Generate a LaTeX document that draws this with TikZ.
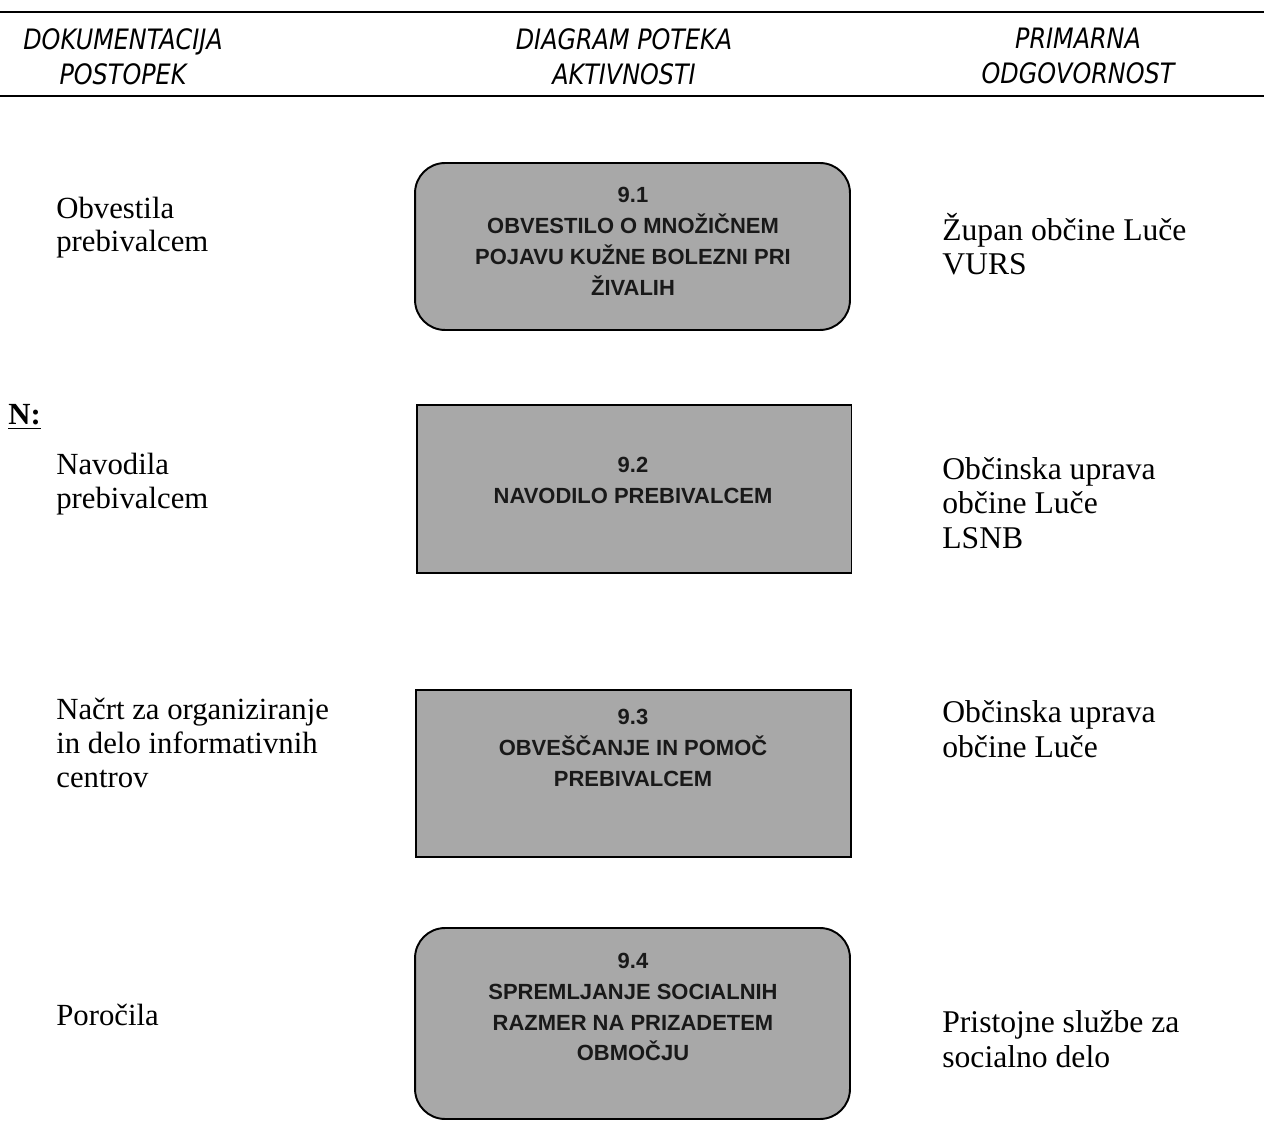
\documentclass[tikz,border=0pt]{standalone}
\usepackage{fontspec}
\setmainfont{Liberation Serif}
\newfontfamily\headfont[FakeStretch=0.85]{DejaVu Sans}
\newfontfamily\boxfont{Liberation Sans}
\usetikzlibrary{positioning}

\begin{document}
\begin{tikzpicture}[
  x=0.02cm, y=-0.02cm,
  headtext/.style={align=center, anchor=north, inner sep=0pt,
    font=\headfont\itshape\fontsize{16}{19.9}\selectfont},
  doctext/.style={align=left, anchor=base west, inner sep=0pt,
    font=\fontsize{17.5}{19.1}\selectfont},
  resptext/.style={align=left, anchor=base west, inner sep=0pt,
    font=\fontsize{18}{19.4}\selectfont},
  actbox/.style={draw, line width=1.1pt, fill=gray!68!white, minimum width=8.7cm},
  acttext/.style={align=center, inner sep=0pt, text=black!90,
    font=\boxfont\bfseries\fontsize{12.5}{17.6}\selectfont}
]
\useasboundingbox (0,0) rectangle (1264,1121);

% header
\draw[line width=1.5pt] (0,12) -- (1264,12);
\draw[line width=1.5pt] (0,96) -- (1264,96);
\node[headtext] (hdok) at (123,28) {DOKUMENTACIJA\\POSTOPEK};
\node[headtext] (hdia) at (624,28) {DIAGRAM POTEKA\\AKTIVNOSTI};
\node[headtext] (hodg) at (1078,28) {PRIMARNA\\ODGOVORNOST};

% activity boxes
\node[actbox, rounded corners=0.6cm, minimum height=3.34cm] (a91) at (632.5,246.5) {};
\node[actbox, minimum height=3.36cm] (a92) at (634,489) {};
\node[actbox, minimum height=3.34cm] (a93) at (633.5,773.5) {};
\node[actbox, rounded corners=0.6cm, minimum height=3.82cm] (a94) at (632.5,1023.5) {};

\node[acttext] (t91) at (633,241) {9.1\\OBVESTILO O MNOŽIČNEM\\POJAVU KUŽNE BOLEZNI PRI\\ŽIVALIH};
\node[acttext] (t92) at (633,480) {9.2\\NAVODILO PREBIVALCEM};
\node[acttext] (t93) at (633,748) {9.3\\OBVEŠČANJE IN POMOČ\\PREBIVALCEM};
\node[acttext] (t94) at (633,1007) {9.4\\SPREMLJANJE SOCIALNIH\\RAZMER NA PRIZADETEM\\OBMOČJU};

% documentation (anchored at last line)
\node[doctext] (d91) at (56,252) {Obvestila\\prebivalcem};
\node[doctext] (d92) at (56,508) {Navodila\\prebivalcem};
\node[doctext] (d93) at (56,787) {Načrt za organiziranje\\in delo informativnih\\centrov};
\node[doctext] (d94) at (56,1025) {Poročila};
\node[doctext, font=\bfseries\fontsize{17.5}{19.1}\selectfont] (nn) at (8,425) {\underline{N:}};

% responsibility (anchored at last line)
\node[resptext] (r91) at (942,275) {Župan občine Luče\\VURS};
\node[resptext] (r92) at (942,548) {Občinska uprava\\občine Luče\\LSNB};
\node[resptext] (r93) at (942,757) {Občinska uprava\\občine Luče};
\node[resptext] (r94) at (942,1067) {Pristojne službe za\\socialno delo};
\end{tikzpicture}
\end{document}
